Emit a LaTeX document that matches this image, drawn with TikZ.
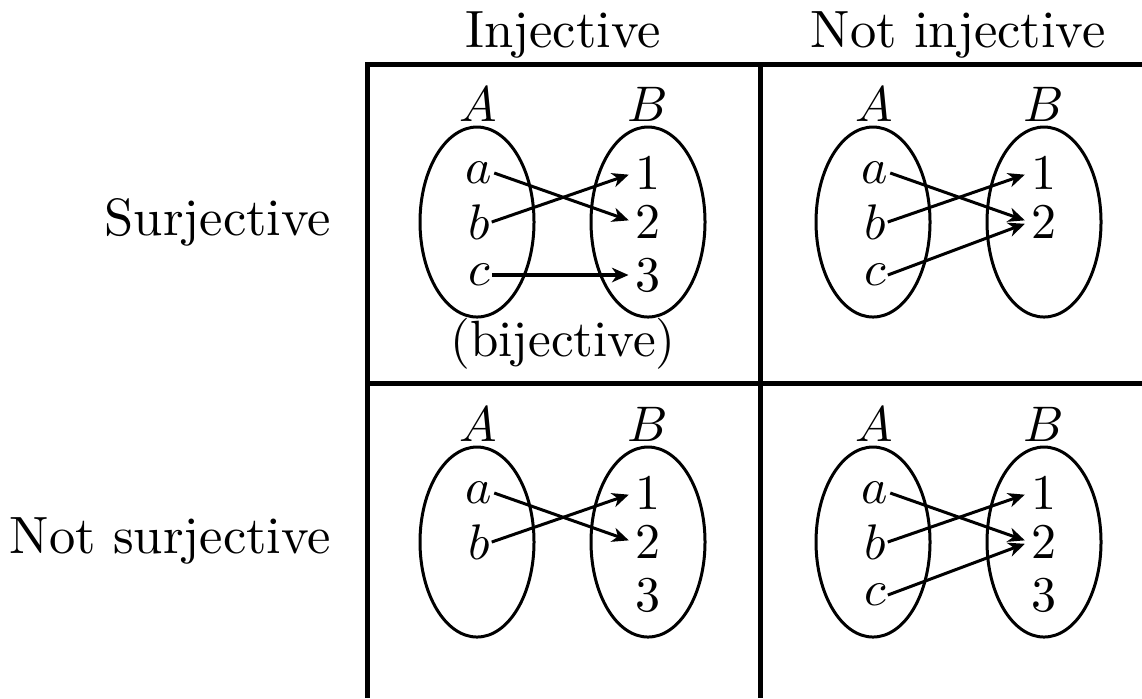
\documentclass[tikz,border=0pt]{standalone}
\usetikzlibrary{arrows.meta,shapes.geometric}
\begin{document}
\begin{tikzpicture}[x=0.2pt,y=-0.2pt,
  txt/.style={font=\fontsize{10.5}{12}\selectfont, inner sep=0pt},
  grid/.style={line width=1pt},
  setshape/.style={draw, ellipse, line width=0.6pt, inner sep=0pt, minimum width=22.8pt, minimum height=38pt},
  elem/.style={font=\fontsize{9.8}{11}\selectfont, inner sep=0.2pt},
  map/.style={-{Stealth[length=3.3pt,width=2.9pt,inset=1pt]}, line width=0.6pt, shorten >=1pt},
  thickmap/.style={map, line width=0.9pt}]
\useasboundingbox (0,0) rectangle (1142,698);
% grid
\coordinate (tl) at (367,64);
\coordinate (tr) at (1142,64);
\coordinate (ml) at (367,383);
\coordinate (mr) at (1142,383);
\coordinate (bl) at (367,698);
\coordinate (tm) at (760,64);
\coordinate (bm) at (760,698);
\draw[grid] (bl) -- (tl) -- (tr);
\draw[grid] (ml) -- (mr);
\draw[grid] (tm) -- (bm);
% headers
\node[txt] (h1) at (563,35) {Injective};
\node[txt] (h2) at (958,35) {Not injective};
\node[txt, anchor=east] (r1) at (332,222) {Surjective};
\node[txt, anchor=east] (r2) at (332,541) {Not surjective};
% cell top-left
\begin{scope}[shift={(477,222)}, name prefix=p-]
  \node[setshape] (SA) at (0,0) {};
  \node[setshape] (SB) at (171,0) {};
  \node[elem] (A) at (1,-118) {$A$};
  \node[elem] (B) at (171,-118) {$B$};
  \node[elem] (a) at (2,-49) {$a$};
  \node[elem] (b) at (2,0) {$b$};
  \node[elem] (c) at (2,53) {$c$};
  \node[elem] (one) at (171,-49) {$1$};
  \node[elem] (two) at (171,0) {$2$};
  \node[elem] (three) at (171,53) {$3$};
  \node[txt, font=\fontsize{10.2}{12}\selectfont] (bij) at (86,122) {(bijective)};
  \draw[map] (a.east) -- (two.west);
  \draw[map] (b.east) -- (one.west);
  \draw[thickmap] (c.east) -- (three.west);
\end{scope}
% cell top-right
\begin{scope}[shift={(873,222)}, name prefix=q-]
  \node[setshape] (SA) at (0,0) {};
  \node[setshape] (SB) at (171,0) {};
  \node[elem] (A) at (1,-118) {$A$};
  \node[elem] (B) at (171,-118) {$B$};
  \node[elem] (a) at (2,-49) {$a$};
  \node[elem] (b) at (2,0) {$b$};
  \node[elem] (c) at (2,53) {$c$};
  \node[elem] (one) at (171,-49) {$1$};
  \node[elem] (two) at (171,0) {$2$};
  \draw[map] (a.east) -- (two.west);
  \draw[map] (b.east) -- (one.west);
  \draw[map] (c.east) -- (two.west);
\end{scope}
% cell bottom-left
\begin{scope}[shift={(477,542)}, name prefix=r-]
  \node[setshape] (SA) at (0,0) {};
  \node[setshape] (SB) at (171,0) {};
  \node[elem] (A) at (1,-118) {$A$};
  \node[elem] (B) at (171,-118) {$B$};
  \node[elem] (a) at (2,-49) {$a$};
  \node[elem] (b) at (2,0) {$b$};
  \node[elem] (one) at (171,-49) {$1$};
  \node[elem] (two) at (171,0) {$2$};
  \node[elem] (three) at (171,53) {$3$};
  \draw[map] (a.east) -- (two.west);
  \draw[map] (b.east) -- (one.west);
\end{scope}
% cell bottom-right
\begin{scope}[shift={(873,542)}, name prefix=s-]
  \node[setshape] (SA) at (0,0) {};
  \node[setshape] (SB) at (171,0) {};
  \node[elem] (A) at (1,-118) {$A$};
  \node[elem] (B) at (171,-118) {$B$};
  \node[elem] (a) at (2,-49) {$a$};
  \node[elem] (b) at (2,0) {$b$};
  \node[elem] (c) at (2,53) {$c$};
  \node[elem] (one) at (171,-49) {$1$};
  \node[elem] (two) at (171,0) {$2$};
  \node[elem] (three) at (171,53) {$3$};
  \draw[map] (a.east) -- (two.west);
  \draw[map] (b.east) -- (one.west);
  \draw[map] (c.east) -- (two.west);
\end{scope}
\end{tikzpicture}
\end{document}
